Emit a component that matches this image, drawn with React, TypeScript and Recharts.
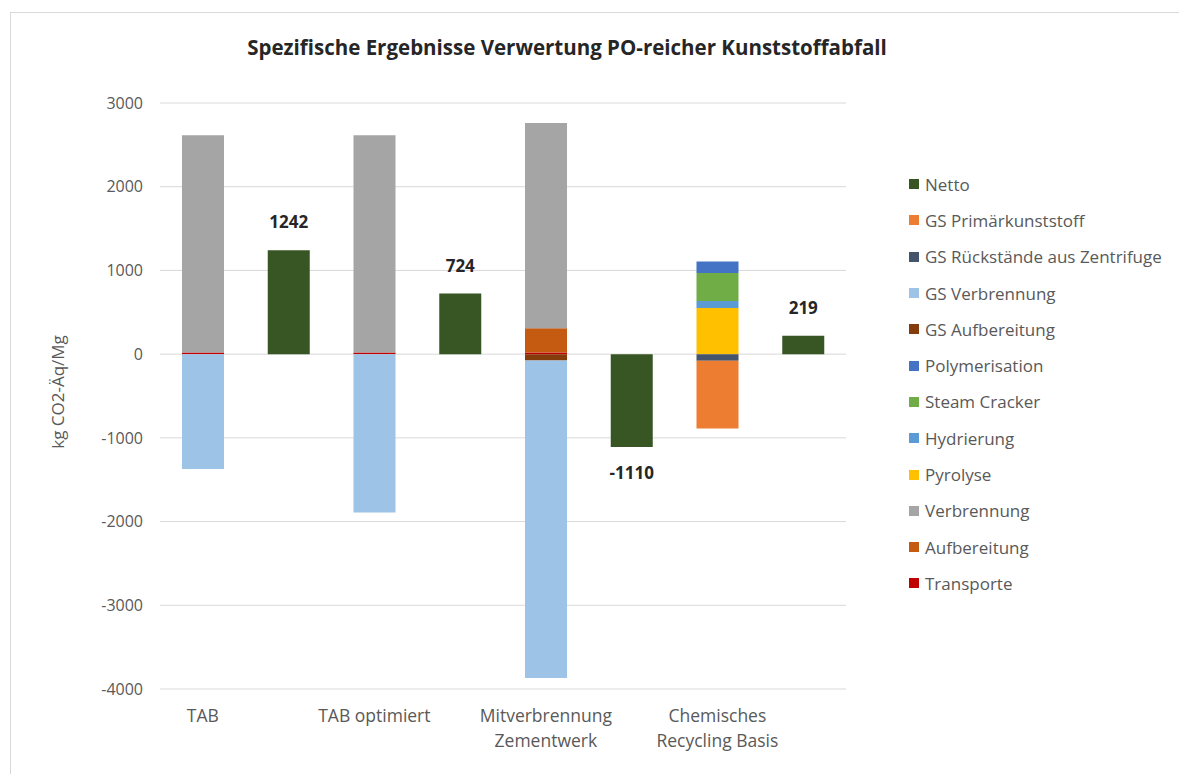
import React from "react";
import { BarChart, Bar, XAxis, YAxis, CartesianGrid, LabelList } from "recharts";

const categories = ["TAB", "TAB optimiert", "Mitverbrennung Zementwerk", "Chemisches Recycling Basis"];

const transporte = [20, 20, 20, 0];
const aufbereitung = [0, 0, 290, 0];
const verbrennung = [2595, 2595, 2450, 0];
const pyrolyse = [0, 0, 0, 550];
const hydrierung = [0, 0, 0, 85];
const steamCracker = [0, 0, 0, 335];
const polymerisation = [0, 0, 0, 137];
const gsAufbereitung = [0, 0, -75, 0];
const gsVerbrennung = [-1373, -1891, -3795, 0];
const gsRueckstaende = [0, 0, 0, -80];
const gsPrimaer = [0, 0, 0, -808];
const netto = [1242, 724, -1110, 219];

const yTicks = [-4000, -3000, -2000, -1000, 0, 1000, 2000, 3000];

const series = [
  { key: "transporte", name: "Transporte", values: transporte, color: "#C00000" },
  { key: "aufbereitung", name: "Aufbereitung", values: aufbereitung, color: "#C55A11" },
  { key: "verbrennung", name: "Verbrennung", values: verbrennung, color: "#A5A5A5" },
  { key: "pyrolyse", name: "Pyrolyse", values: pyrolyse, color: "#FFC000" },
  { key: "hydrierung", name: "Hydrierung", values: hydrierung, color: "#5B9BD5" },
  { key: "steamCracker", name: "Steam Cracker", values: steamCracker, color: "#70AD47" },
  { key: "polymerisation", name: "Polymerisation", values: polymerisation, color: "#4472C4" },
  { key: "gsAufbereitung", name: "GS Aufbereitung", values: gsAufbereitung, color: "#843C0C" },
  { key: "gsVerbrennung", name: "GS Verbrennung", values: gsVerbrennung, color: "#9DC3E6" },
  { key: "gsRueckstaende", name: "GS Rückstände aus Zentrifuge", values: gsRueckstaende, color: "#44546A" },
  { key: "gsPrimaer", name: "GS Primärkunststoff", values: gsPrimaer, color: "#ED7D31" },
];
const nettoSeries = { key: "netto", name: "Netto", values: netto, color: "#375623" };

const data: any[] = [];
categories.forEach((cat, i) => {
  const row: any = { slot: cat, label: cat };
  series.forEach((s) => {
    row[s.key] = s.values[i];
  });
  data.push(row);
  data.push({ slot: cat + "-netto", label: "", netto: netto[i] });
});

const labelBySlot: Record<string, string> = {};
data.forEach((d) => (labelBySlot[d.slot] = d.label));

const FONT = "'Open Sans', sans-serif";
const GRAY = "#595959";

function wrap(text: string, max: number): string[] {
  const words = text.split(" ");
  const lines: string[] = [];
  let cur = "";
  words.forEach((w) => {
    const t = cur ? cur + " " + w : w;
    if (t.length > max && cur) {
      lines.push(cur);
      cur = w;
    } else cur = t;
  });
  if (cur) lines.push(cur);
  return lines;
}

const XTick = (props: any) => {
  const { x, y, payload } = props;
  const label = labelBySlot[payload.value] || "";
  if (!label) return null;
  const lines = wrap(label, 15);
  return (
    <text x={x} y={y} textAnchor="middle" fill={GRAY} fontSize={17.5} fontFamily={FONT}>
      {lines.map((l, i) => (
        <tspan key={i} x={x} dy={i === 0 ? 25 : 25}>
          {l}
        </tspan>
      ))}
    </text>
  );
};

const NettoLabel = (props: any) => {
  const { x, y, width, height, value } = props;
  if (value == null || value === "") return null;
  const top = Math.min(y, y + height);
  const bottom = Math.max(y, y + height);
  const cx = x + width / 2;
  const ty = value >= 0 ? top - 22 : bottom + 32;
  return (
    <text x={cx} y={ty} textAnchor="middle" fill="#262626" fontSize={17} fontWeight="bold" fontFamily={FONT}>
      {value}
    </text>
  );
};

const legendItems = [nettoSeries, ...series.slice().reverse()];

export default function App() {
  return (
    <div
      style={{
        position: "absolute",
        left: 0,
        top: 0,
        width: 1179,
        height: 774,
        overflow: "hidden",
        background: "#fff",
        fontFamily: FONT,
      }}
    >
      <div
        style={{
          position: "absolute",
          left: 10,
          top: 12,
          width: 1200,
          height: 800,
          border: "1px solid #D9D9D9",
        }}
      />
      <div
        style={{
          position: "absolute",
          left: 0,
          width: 1134,
          top: 34,
          textAlign: "center",
          fontSize: 20.5,
          fontWeight: "bold",
          color: "#262626",
          lineHeight: "26px",
        }}
      >
        Spezifische Ergebnisse Verwertung PO-reicher Kunststoffabfall
      </div>
      <div
        style={{
          position: "absolute",
          left: 57,
          top: 392,
          transform: "translate(-50%, -50%) rotate(-90deg)",
          fontSize: 17,
          color: GRAY,
          whiteSpace: "nowrap",
        }}
      >
        kg CO2-Äq/Mg
      </div>
      <div style={{ position: "absolute", left: 0, top: 0 }}>
        <BarChart
          width={1179}
          height={774}
          data={data}
          stackOffset="sign"
          margin={{ top: 103, right: 333, bottom: 25, left: 100 }}
          barSize={42}
        >
          <CartesianGrid horizontal vertical={false} stroke="#D9D9D9" />
          <XAxis
            dataKey="slot"
            axisLine={false}
            tickLine={false}
            interval={0}
            height={60}
            tick={<XTick />}
          />
          <YAxis
            width={60}
            domain={[-4000, 3000]}
            ticks={yTicks}
            axisLine={false}
            tickLine={false}
            tickMargin={11}
            tick={{ fill: GRAY, fontSize: 16, fontFamily: FONT }}
          />
          {series.map((s) => (
            <Bar key={s.key} dataKey={s.key} name={s.name} stackId="s" fill={s.color} isAnimationActive={false} />
          ))}
          <Bar dataKey="netto" name="Netto" stackId="s" fill={nettoSeries.color} isAnimationActive={false}>
            <LabelList dataKey="netto" content={<NettoLabel />} />
          </Bar>
        </BarChart>
      </div>
      <div style={{ position: "absolute", left: 909, top: 184 - 18 }}>
        {legendItems.map((it) => (
          <div
            key={it.key}
            style={{ height: 36.3, display: "flex", alignItems: "center", whiteSpace: "nowrap" }}
          >
            <span
              style={{ width: 10, height: 10, background: it.color, display: "inline-block", marginRight: 6 }}
            />
            <span style={{ fontSize: 17, color: GRAY }}>{it.name}</span>
          </div>
        ))}
      </div>
    </div>
  );
}
